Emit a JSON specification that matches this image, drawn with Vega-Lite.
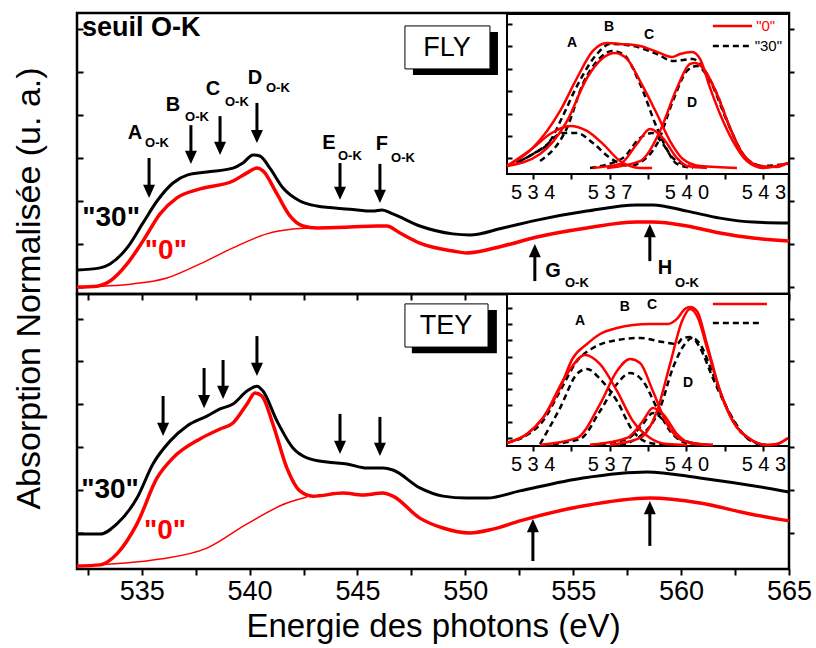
{
"$schema":"https://vega.github.io/schema/vega-lite/v6.json",
"background":"white",
"padding":{"left":10,"top":11,"right":10,"bottom":0},
"spacing":0,
"bounds":"flush",
"config":{"font":"Liberation Sans","view":{"stroke":"black","strokeWidth":2.5},
 "line":{"interpolate":"monotone"},
 "axis":{"grid":false,"domain":false,"tickColor":"black","tickWidth":2,"labelColor":"black","titleColor":"black","titleFontWeight":"normal","labelFont":"Liberation Sans","titleFont":"Liberation Sans","labelFlush":false,"labelOverlap":false}},
"datasets":{
"fly":[
{"s":"bg","x":532,"y":2.5},{"s":"bg","x":534.59,"y":3.6},{"s":"bg","x":536.17,"y":5.7},{"s":"bg","x":537.7,"y":10.7},{"s":"bg","x":539.23,"y":16.4},{"s":"bg","x":540.8,"y":21.4},{"s":"bg","x":542.01,"y":23.1},{"s":"bg","x":542.8,"y":23.5},
{"s":"30","x":532,"y":8.5},{"s":"30","x":533.07,"y":9.3},{"s":"30","x":533.53,"y":10.7},{"s":"30","x":534.32,"y":16.4},{"s":"30","x":535.06,"y":25.3},{"s":"30","x":535.71,"y":33.1},{"s":"30","x":536.45,"y":39.5},{"s":"30","x":537.1,"y":42.3},{"s":"30","x":538.02,"y":43.4},{"s":"30","x":539.23,"y":44.8},{"s":"30","x":539.69,"y":46.6},{"s":"30","x":540.16,"y":49.5},{"s":"30","x":540.48,"y":49.1},{"s":"30","x":540.94,"y":44.8},{"s":"30","x":541.55,"y":37.7},{"s":"30","x":542.33,"y":33.1},{"s":"30","x":543.12,"y":31.3},{"s":"30","x":544.65,"y":30.2},{"s":"30","x":545.72,"y":29.5},{"s":"30","x":546.13,"y":29.9},{"s":"30","x":546.64,"y":28.5},{"s":"30","x":547.89,"y":24.2},{"s":"30","x":549.42,"y":21.4},{"s":"30","x":550.21,"y":21.0},{"s":"30","x":551.74,"y":23.5},{"s":"30","x":553.32,"y":26.3},{"s":"30","x":555.63,"y":29.5},{"s":"30","x":557.95,"y":31.7},{"s":"30","x":558.69,"y":31.7},{"s":"30","x":560.27,"y":29.5},{"s":"30","x":561.8,"y":27.0},{"s":"30","x":563.33,"y":25.6},{"s":"30","x":565,"y":25.3},
{"s":"0","x":532,"y":2.5},{"s":"0","x":532.93,"y":2.8},{"s":"0","x":533.53,"y":4.6},{"s":"0","x":534.32,"y":10.7},{"s":"0","x":535.06,"y":18.9},{"s":"0","x":535.85,"y":28.5},{"s":"0","x":536.63,"y":34.2},{"s":"0","x":537.7,"y":37.4},{"s":"0","x":539.23,"y":40.2},{"s":"0","x":539.88,"y":43.1},{"s":"0","x":540.34,"y":44.8},{"s":"0","x":540.62,"y":43.8},{"s":"0","x":541.27,"y":35.6},{"s":"0","x":541.87,"y":27.8},{"s":"0","x":542.47,"y":24.2},{"s":"0","x":543.12,"y":23.5},{"s":"0","x":544.65,"y":23.8},{"s":"0","x":545.9,"y":24.2},{"s":"0","x":546.36,"y":24.2},{"s":"0","x":546.97,"y":21.7},{"s":"0","x":547.89,"y":18.1},{"s":"0","x":549.42,"y":15.3},{"s":"0","x":550.07,"y":14.6},{"s":"0","x":551.74,"y":17.1},{"s":"0","x":553.32,"y":20.3},{"s":"0","x":555.63,"y":23.5},{"s":"0","x":557.95,"y":25.6},{"s":"0","x":558.69,"y":25.6},{"s":"0","x":560.27,"y":24.2},{"s":"0","x":561.8,"y":21.7},{"s":"0","x":563.33,"y":19.9},{"s":"0","x":565,"y":18.9}
],
"tey":[
{"s":"bg","x":532,"y":1.1},{"s":"bg","x":535.85,"y":3.6},{"s":"bg","x":538.02,"y":7.6},{"s":"bg","x":539.88,"y":16.4},{"s":"bg","x":541.73,"y":24.0},{"s":"bg","x":542.66,"y":26.2},
{"s":"30","x":532,"y":12.7},{"s":"30","x":533.07,"y":12.7},{"s":"30","x":533.85,"y":16.4},{"s":"30","x":534.78,"y":25.8},{"s":"30","x":535.52,"y":38.2},{"s":"30","x":536.31,"y":46.5},{"s":"30","x":537.1,"y":52.0},{"s":"30","x":538.02,"y":55.6},{"s":"30","x":538.63,"y":58.2},{"s":"30","x":539.23,"y":60.0},{"s":"30","x":539.88,"y":64.7},{"s":"30","x":540.34,"y":66.5},{"s":"30","x":540.62,"y":64.7},{"s":"30","x":541.27,"y":53.8},{"s":"30","x":542.01,"y":44.0},{"s":"30","x":542.66,"y":40.4},{"s":"30","x":543.58,"y":38.9},{"s":"30","x":544.51,"y":38.2},{"s":"30","x":545.44,"y":36.7},{"s":"30","x":546.18,"y":36.7},{"s":"30","x":546.64,"y":36.0},{"s":"30","x":547.89,"y":29.5},{"s":"30","x":548.96,"y":26.5},{"s":"30","x":550.07,"y":25.8},{"s":"30","x":551.0,"y":25.8},{"s":"30","x":552.53,"y":28.4},{"s":"30","x":555.45,"y":33.1},{"s":"30","x":558.41,"y":35.3},{"s":"30","x":560.87,"y":33.1},{"s":"30","x":564.72,"y":28.4},{"s":"30","x":565,"y":28.0},
{"s":"0","x":532,"y":1.1},{"s":"0","x":533.07,"y":1.5},{"s":"0","x":533.85,"y":5.5},{"s":"0","x":534.78,"y":16.4},{"s":"0","x":535.71,"y":33.1},{"s":"0","x":536.45,"y":40.4},{"s":"0","x":537.7,"y":47.3},{"s":"0","x":538.63,"y":50.9},{"s":"0","x":539.23,"y":53.1},{"s":"0","x":539.88,"y":60.0},{"s":"0","x":540.25,"y":64.0},{"s":"0","x":540.57,"y":62.9},{"s":"0","x":541.08,"y":52.7},{"s":"0","x":541.73,"y":36.7},{"s":"0","x":542.33,"y":28.4},{"s":"0","x":542.94,"y":26.5},{"s":"0","x":544.33,"y":27.6},{"s":"0","x":545.25,"y":26.9},{"s":"0","x":546.18,"y":27.6},{"s":"0","x":546.64,"y":26.5},{"s":"0","x":547.89,"y":18.5},{"s":"0","x":548.96,"y":14.9},{"s":"0","x":550.21,"y":13.1},{"s":"0","x":551.28,"y":14.5},{"s":"0","x":552.53,"y":17.5},{"s":"0","x":555.45,"y":22.9},{"s":"0","x":558.55,"y":25.8},{"s":"0","x":560.87,"y":24.0},{"s":"0","x":563.19,"y":20.0},{"s":"0","x":565,"y":17.5}
],
"fly_ar":[
{"d":"down","x":535.34,"y":34.2,"y2":48.4},{"d":"down","x":537.28,"y":46.3,"y2":60.1},{"d":"down","x":538.63,"y":49.5,"y2":63.3},{"d":"down","x":540.34,"y":53.7,"y2":68.0},{"d":"down","x":544.19,"y":33.5,"y2":46.6},{"d":"down","x":546.04,"y":32.4,"y2":46.3},
{"d":"up","x":553.22,"y":17.8,"y2":4.6},{"d":"up","x":558.55,"y":24.9,"y2":11.7}
],
"tey_ar":[
{"d":"down","x":535.99,"y":48.4,"y2":62.9},{"d":"down","x":537.89,"y":58.5,"y2":73.1},{"d":"down","x":538.77,"y":61.8,"y2":76.0},{"d":"down","x":540.34,"y":70.2,"y2":84.7},{"d":"down","x":544.19,"y":41.8,"y2":56.4},{"d":"down","x":546.04,"y":41.1,"y2":55.3},
{"d":"up","x":553.13,"y":18.2,"y2":2.9},{"d":"up","x":558.55,"y":24.7,"y2":8.4}
],
"fly_tx":[
{"k":"big","t":"A","x":534.69,"y":57.3},{"k":"big","t":"B","x":536.45,"y":67.3},{"k":"big","t":"C","x":538.3,"y":73.0},{"k":"big","t":"D","x":540.25,"y":76.9},{"k":"big","t":"E","x":543.68,"y":53.7},{"k":"big","t":"F","x":546.13,"y":53.4},{"k":"big","t":"G","x":554.06,"y":8.2},{"k":"big","t":"H","x":559.25,"y":9.3},
{"k":"sub","t":"O-K","x":535.71,"y":53.7},{"k":"sub","t":"O-K","x":537.56,"y":63.0},{"k":"sub","t":"O-K","x":539.41,"y":68.3},{"k":"sub","t":"O-K","x":541.31,"y":73.3},{"k":"sub","t":"O-K","x":544.65,"y":49.1},{"k":"sub","t":"O-K","x":547.11,"y":48.4},{"k":"sub","t":"O-K","x":555.17,"y":3.9},{"k":"sub","t":"O-K","x":560.27,"y":3.9},
{"k":"seuil","t":"seuil O-K","x":532.23,"y":94.7},
{"k":"s30","t":"\"30\"","x":533.58,"y":27.0},
{"k":"s0","t":"\"0\"","x":536.12,"y":15.3},
{"k":"box","t":"FLY","x":549.15,"y":87.5}
],
"tey_tx":[
{"k":"s30","t":"\"30\"","x":533.53,"y":28.7},
{"k":"s0","t":"\"0\"","x":536.08,"y":13.8},
{"k":"box","t":"TEY","x":549.1,"y":88.4}
],
"fly_bx":[
{"k":"shadow","x":547.57,"x2":551.51,"y":93.2,"y2":77.9},
{"k":"box","x":547.2,"x2":551.14,"y":95.4,"y2":80.1}
],
"tey_bx":[
{"k":"shadow","x":547.52,"x2":551.46,"y":94.2,"y2":78.5},
{"k":"box","x":547.2,"x2":551.05,"y":96.4,"y2":80.7}
],
"fly_in":[
{"s":"env30","g":"30","x":533.0,"y":5.0},{"s":"env30","g":"30","x":534.01,"y":12.5},{"s":"env30","g":"30","x":534.68,"y":20.6},{"s":"env30","g":"30","x":535.18,"y":36.3},{"s":"env30","g":"30","x":535.73,"y":55.0},{"s":"env30","g":"30","x":536.51,"y":75.0},{"s":"env30","g":"30","x":537.02,"y":81.3},{"s":"env30","g":"30","x":537.91,"y":80.0},{"s":"env30","g":"30","x":538.85,"y":75.0},{"s":"env30","g":"30","x":539.47,"y":70.6},{"s":"env30","g":"30","x":540.25,"y":71.9},{"s":"env30","g":"30","x":540.64,"y":66.3},{"s":"env30","g":"30","x":541.19,"y":50.0},{"s":"env30","g":"30","x":541.7,"y":28.8},{"s":"env30","g":"30","x":542.2,"y":12.5},{"s":"env30","g":"30","x":542.87,"y":5.0},{"s":"env30","g":"30","x":543.96,"y":6.3},
{"s":"A30","g":"30","x":533.51,"y":8.1},{"s":"A30","g":"30","x":534.4,"y":16.3},{"s":"A30","g":"30","x":535.18,"y":25.6},{"s":"A30","g":"30","x":535.73,"y":25.6},{"s":"A30","g":"30","x":536.35,"y":19.4},{"s":"A30","g":"30","x":537.02,"y":10.0},{"s":"A30","g":"30","x":537.68,"y":5.0},
{"s":"B30","g":"30","x":534.29,"y":8.1},{"s":"B30","g":"30","x":535.34,"y":28.8},{"s":"B30","g":"30","x":535.96,"y":56.3},{"s":"B30","g":"30","x":536.63,"y":72.5},{"s":"B30","g":"30","x":537.1,"y":76.9},{"s":"B30","g":"30","x":537.52,"y":75.0},{"s":"B30","g":"30","x":538.19,"y":56.3},{"s":"B30","g":"30","x":538.85,"y":28.8},{"s":"B30","g":"30","x":539.47,"y":10.0},{"s":"B30","g":"30","x":540.14,"y":5.0},
{"s":"C30","g":"30","x":536.24,"y":3.8},{"s":"C30","g":"30","x":537.52,"y":10.0},{"s":"C30","g":"30","x":538.19,"y":22.5},{"s":"C30","g":"30","x":538.66,"y":25.6},{"s":"C30","g":"30","x":539.08,"y":18.8},{"s":"C30","g":"30","x":539.63,"y":6.3},{"s":"C30","g":"30","x":540.25,"y":3.8},
{"s":"D30","g":"30","x":537.91,"y":5.0},{"s":"D30","g":"30","x":538.85,"y":18.8},{"s":"D30","g":"30","x":539.47,"y":45.6},{"s":"D30","g":"30","x":540.02,"y":64.4},{"s":"D30","g":"30","x":540.41,"y":67.5},{"s":"D30","g":"30","x":540.92,"y":58.1},{"s":"D30","g":"30","x":541.58,"y":33.1},{"s":"D30","g":"30","x":542.2,"y":12.5},{"s":"D30","g":"30","x":542.87,"y":5.0},
{"s":"L30","g":"30","x":541.03,"y":80.0},{"s":"L30","g":"30","x":542.56,"y":80.0},
{"s":"env0","g":"0","x":533.0,"y":5.0},{"s":"env0","g":"0","x":534.01,"y":16.3},{"s":"env0","g":"0","x":535.07,"y":39.4},{"s":"env0","g":"0","x":535.73,"y":60.0},{"s":"env0","g":"0","x":536.35,"y":76.9},{"s":"env0","g":"0","x":536.9,"y":81.9},{"s":"env0","g":"0","x":537.41,"y":81.3},{"s":"env0","g":"0","x":538.19,"y":80.0},{"s":"env0","g":"0","x":538.85,"y":76.3},{"s":"env0","g":"0","x":539.44,"y":73.1},{"s":"env0","g":"0","x":539.75,"y":75.0},{"s":"env0","g":"0","x":540.22,"y":76.3},{"s":"env0","g":"0","x":540.53,"y":71.9},{"s":"env0","g":"0","x":540.92,"y":53.8},{"s":"env0","g":"0","x":541.31,"y":37.5},{"s":"env0","g":"0","x":541.81,"y":20.6},{"s":"env0","g":"0","x":542.36,"y":8.1},{"s":"env0","g":"0","x":542.98,"y":3.8},{"s":"env0","g":"0","x":543.53,"y":5.0},{"s":"env0","g":"0","x":543.96,"y":6.9},
{"s":"A0","g":"0","x":533.0,"y":5.0},{"s":"A0","g":"0","x":534.01,"y":16.3},{"s":"A0","g":"0","x":534.68,"y":25.0},{"s":"A0","g":"0","x":535.46,"y":30.0},{"s":"A0","g":"0","x":536.12,"y":26.9},{"s":"A0","g":"0","x":536.74,"y":18.8},{"s":"A0","g":"0","x":537.41,"y":8.1},{"s":"A0","g":"0","x":538.19,"y":3.8},{"s":"A0","g":"0","x":538.66,"y":3.8},
{"s":"B0","g":"0","x":533.0,"y":5.0},{"s":"B0","g":"0","x":534.29,"y":12.5},{"s":"B0","g":"0","x":535.34,"y":33.1},{"s":"B0","g":"0","x":536.12,"y":60.0},{"s":"B0","g":"0","x":536.74,"y":72.5},{"s":"B0","g":"0","x":537.21,"y":75.6},{"s":"B0","g":"0","x":537.68,"y":71.9},{"s":"B0","g":"0","x":538.19,"y":58.1},{"s":"B0","g":"0","x":538.85,"y":37.5},{"s":"B0","g":"0","x":539.36,"y":20.6},{"s":"B0","g":"0","x":539.86,"y":9.4},{"s":"B0","g":"0","x":540.53,"y":5.0},{"s":"B0","g":"0","x":541.97,"y":3.8},
{"s":"C0","g":"0","x":536.35,"y":3.8},{"s":"C0","g":"0","x":537.41,"y":6.3},{"s":"C0","g":"0","x":538.07,"y":18.8},{"s":"C0","g":"0","x":538.58,"y":28.1},{"s":"C0","g":"0","x":539.08,"y":22.5},{"s":"C0","g":"0","x":539.63,"y":10.0},{"s":"C0","g":"0","x":540.02,"y":5.0},{"s":"C0","g":"0","x":540.8,"y":3.8},
{"s":"D0","g":"0","x":536.9,"y":3.8},{"s":"D0","g":"0","x":538.19,"y":8.1},{"s":"D0","g":"0","x":538.97,"y":26.9},{"s":"D0","g":"0","x":539.63,"y":53.8},{"s":"D0","g":"0","x":540.14,"y":68.8},{"s":"D0","g":"0","x":540.33,"y":69.4},{"s":"D0","g":"0","x":540.64,"y":66.3},{"s":"D0","g":"0","x":541.19,"y":50.0},{"s":"D0","g":"0","x":541.7,"y":28.8},{"s":"D0","g":"0","x":542.2,"y":12.5},{"s":"D0","g":"0","x":542.87,"y":5.0},{"s":"D0","g":"0","x":543.53,"y":4.4},{"s":"D0","g":"0","x":543.96,"y":6.9},
{"s":"L0","g":"0","x":541.03,"y":92.5},{"s":"L0","g":"0","x":542.56,"y":92.5}
],
"tey_in":[
{"s":"env30","g":"30","x":533.0,"y":2.0},{"s":"env30","g":"30","x":533.78,"y":7.2},{"s":"env30","g":"30","x":534.4,"y":16.4},{"s":"env30","g":"30","x":535.07,"y":36.2},{"s":"env30","g":"30","x":535.73,"y":55.9},{"s":"env30","g":"30","x":536.35,"y":64.5},{"s":"env30","g":"30","x":537.29,"y":69.7},{"s":"env30","g":"30","x":538.19,"y":71.1},{"s":"env30","g":"30","x":539.08,"y":68.4},{"s":"env30","g":"30","x":539.63,"y":67.1},{"s":"env30","g":"30","x":539.86,"y":71.1},{"s":"env30","g":"30","x":540.14,"y":71.7},{"s":"env30","g":"30","x":540.53,"y":67.1},{"s":"env30","g":"30","x":541.03,"y":47.4},{"s":"env30","g":"30","x":541.58,"y":25.0},{"s":"env30","g":"30","x":542.09,"y":9.9},{"s":"env30","g":"30","x":542.75,"y":2.0},{"s":"env30","g":"30","x":543.14,"y":0.7},
{"s":"A30","g":"30","x":534.29,"y":1.3},{"s":"A30","g":"30","x":535.07,"y":25.0},{"s":"A30","g":"30","x":535.73,"y":47.4},{"s":"A30","g":"30","x":536.12,"y":50.7},{"s":"A30","g":"30","x":536.63,"y":44.1},{"s":"A30","g":"30","x":537.29,"y":29.6},{"s":"A30","g":"30","x":537.91,"y":9.9},{"s":"A30","g":"30","x":538.58,"y":2.0},{"s":"A30","g":"30","x":539.47,"y":0.7},
{"s":"B30","g":"30","x":534.4,"y":0.7},{"s":"B30","g":"30","x":535.85,"y":4.6},{"s":"B30","g":"30","x":536.63,"y":23.0},{"s":"B30","g":"30","x":537.29,"y":40.8},{"s":"B30","g":"30","x":537.8,"y":48.0},{"s":"B30","g":"30","x":538.3,"y":42.8},{"s":"B30","g":"30","x":538.85,"y":25.0},{"s":"B30","g":"30","x":539.36,"y":9.9},{"s":"B30","g":"30","x":540.02,"y":2.0},{"s":"B30","g":"30","x":541.03,"y":0.7},
{"s":"C30","g":"30","x":536.24,"y":0.7},{"s":"C30","g":"30","x":537.68,"y":4.6},{"s":"C30","g":"30","x":538.3,"y":14.5},{"s":"C30","g":"30","x":538.69,"y":21.7},{"s":"C30","g":"30","x":539.24,"y":14.5},{"s":"C30","g":"30","x":539.75,"y":4.6},{"s":"C30","g":"30","x":540.8,"y":0.7},
{"s":"D30","g":"30","x":537.41,"y":0.7},{"s":"D30","g":"30","x":538.3,"y":7.9},{"s":"D30","g":"30","x":538.97,"y":25.0},{"s":"D30","g":"30","x":539.47,"y":51.3},{"s":"D30","g":"30","x":539.94,"y":67.1},{"s":"D30","g":"30","x":540.22,"y":71.1},{"s":"D30","g":"30","x":540.53,"y":64.5},{"s":"D30","g":"30","x":541.03,"y":44.7},{"s":"D30","g":"30","x":541.7,"y":21.1},{"s":"D30","g":"30","x":542.36,"y":5.3},{"s":"D30","g":"30","x":542.98,"y":0.7},
{"s":"L30","g":"30","x":541.03,"y":80.9},{"s":"L30","g":"30","x":542.98,"y":80.9},
{"s":"env0","g":"0","x":533.0,"y":2.0},{"s":"env0","g":"0","x":533.78,"y":7.9},{"s":"env0","g":"0","x":534.4,"y":18.4},{"s":"env0","g":"0","x":535.07,"y":38.2},{"s":"env0","g":"0","x":535.57,"y":57.9},{"s":"env0","g":"0","x":536.12,"y":67.1},{"s":"env0","g":"0","x":536.63,"y":73.7},{"s":"env0","g":"0","x":537.29,"y":77.6},{"s":"env0","g":"0","x":537.91,"y":79.6},{"s":"env0","g":"0","x":538.58,"y":80.3},{"s":"env0","g":"0","x":539.28,"y":80.3},{"s":"env0","g":"0","x":539.63,"y":83.6},{"s":"env0","g":"0","x":539.94,"y":90.1},{"s":"env0","g":"0","x":540.14,"y":91.4},{"s":"env0","g":"0","x":540.41,"y":88.8},{"s":"env0","g":"0","x":540.8,"y":67.1},{"s":"env0","g":"0","x":541.31,"y":36.2},{"s":"env0","g":"0","x":541.81,"y":16.4},{"s":"env0","g":"0","x":542.48,"y":4.6},{"s":"env0","g":"0","x":543.14,"y":0.7},{"s":"env0","g":"0","x":543.53,"y":1.3},{"s":"env0","g":"0","x":543.96,"y":5.3},
{"s":"A0","g":"0","x":533.0,"y":2.0},{"s":"A0","g":"0","x":533.78,"y":7.9},{"s":"A0","g":"0","x":534.4,"y":18.4},{"s":"A0","g":"0","x":535.34,"y":47.4},{"s":"A0","g":"0","x":536.04,"y":59.9},{"s":"A0","g":"0","x":536.63,"y":53.9},{"s":"A0","g":"0","x":537.29,"y":36.2},{"s":"A0","g":"0","x":537.91,"y":16.4},{"s":"A0","g":"0","x":538.58,"y":5.3},{"s":"A0","g":"0","x":539.24,"y":1.3},{"s":"A0","g":"0","x":540.02,"y":0.7},
{"s":"B0","g":"0","x":534.29,"y":0.7},{"s":"B0","g":"0","x":535.73,"y":5.3},{"s":"B0","g":"0","x":536.63,"y":27.6},{"s":"B0","g":"0","x":537.29,"y":49.3},{"s":"B0","g":"0","x":537.8,"y":57.2},{"s":"B0","g":"0","x":538.19,"y":54.6},{"s":"B0","g":"0","x":538.69,"y":36.2},{"s":"B0","g":"0","x":539.24,"y":14.5},{"s":"B0","g":"0","x":539.75,"y":4.6},{"s":"B0","g":"0","x":540.53,"y":1.3},{"s":"B0","g":"0","x":541.03,"y":0.7},
{"s":"C0","g":"0","x":536.24,"y":0.7},{"s":"C0","g":"0","x":537.68,"y":5.3},{"s":"C0","g":"0","x":538.3,"y":16.4},{"s":"C0","g":"0","x":538.69,"y":25.0},{"s":"C0","g":"0","x":539.08,"y":21.1},{"s":"C0","g":"0","x":539.63,"y":7.9},{"s":"C0","g":"0","x":540.25,"y":1.3},{"s":"C0","g":"0","x":541.03,"y":0.7},
{"s":"D0","g":"0","x":537.02,"y":0.7},{"s":"D0","g":"0","x":538.19,"y":5.3},{"s":"D0","g":"0","x":538.85,"y":23.0},{"s":"D0","g":"0","x":539.36,"y":53.9},{"s":"D0","g":"0","x":539.83,"y":82.2},{"s":"D0","g":"0","x":540.14,"y":90.1},{"s":"D0","g":"0","x":540.45,"y":84.2},{"s":"D0","g":"0","x":540.8,"y":64.5},{"s":"D0","g":"0","x":541.31,"y":36.2},{"s":"D0","g":"0","x":541.81,"y":16.4},{"s":"D0","g":"0","x":542.48,"y":4.6},{"s":"D0","g":"0","x":543.14,"y":0.7},{"s":"D0","g":"0","x":543.53,"y":1.3},{"s":"D0","g":"0","x":543.96,"y":5.3},
{"s":"L0","g":"0","x":541.03,"y":93.4},{"s":"L0","g":"0","x":543.14,"y":93.4}
],
"fly_inl":[
{"k":"lab","t":"A","x":535.54,"y":81.9},{"k":"lab","t":"B","x":536.98,"y":91.9},{"k":"lab","t":"C","x":538.54,"y":86.9},{"k":"lab","t":"D","x":540.22,"y":44.4},
{"k":"l0","t":"\"0\"","x":542.72,"y":92.5},{"k":"l30","t":"\"30\"","x":542.66,"y":80.0}
],
"tey_inl":[
{"k":"lab","t":"A","x":535.85,"y":82.2},{"k":"lab","t":"B","x":537.6,"y":91.4},{"k":"lab","t":"C","x":538.66,"y":92.8},{"k":"lab","t":"D","x":540.06,"y":41.4}
]
},
"vconcat":[
{"width":712,"height":281,
 "resolve":{"scale":{"x":"independent","y":"independent"}},
 "layer":[
  {"encoding":{
    "x":{"field":"x","type":"quantitative","scale":{"domain":[532,565],"nice":false,"zero":false},
         "axis":{"orient":"bottom","title":null,"labels":false,"tickSize":6,"values":[532.5,535,537.5,540,542.5,545,547.5,550,552.5,555,557.5,560,562.5,565]}},
    "y":{"field":"y","type":"quantitative","scale":{"domain":[0,100],"nice":false,"zero":false},
         "axis":{"orient":"left","labels":false,"tickSize":-6,"values":[2.5,17.8,33.1,48.4,63.7,79,94.3],
                 "title":"Absorption Normalisée (u. a.)","titleFontSize":34,"titleY":275,"titlePadding":30}}},
   "layer":[
    {"data":{"name":"fly"},"transform":[{"filter":"datum.s==='bg'"}],"mark":{"type":"line","color":"#ff0000","strokeWidth":1.5}},
    {"data":{"name":"fly"},"transform":[{"filter":"datum.s==='30'"}],"mark":{"type":"line","color":"black","strokeWidth":3}},
    {"data":{"name":"fly"},"transform":[{"filter":"datum.s==='0'"}],"mark":{"type":"line","color":"#ff0000","strokeWidth":3.5}},
    {"data":{"name":"fly_ar"},"transform":[{"filter":"datum.d==='down'"}],"mark":{"type":"rule","color":"black","strokeWidth":3,"yOffset":-8},"encoding":{"y2":{"field":"y2"}}},
    {"data":{"name":"fly_ar"},"transform":[{"filter":"datum.d==='down'"}],"mark":{"type":"point","shape":"M-1,-2.2L1,-2.2L0,0Z","filled":true,"color":"black","size":144,"opacity":1,"strokeWidth":0}},
    {"data":{"name":"fly_ar"},"transform":[{"filter":"datum.d==='up'"}],"mark":{"type":"rule","color":"black","strokeWidth":3,"yOffset":8},"encoding":{"y2":{"field":"y2"}}},
    {"data":{"name":"fly_ar"},"transform":[{"filter":"datum.d==='up'"}],"mark":{"type":"point","shape":"M-1,2.2L1,2.2L0,0Z","filled":true,"color":"black","size":144,"opacity":1,"strokeWidth":0}},
    {"data":{"name":"fly_tx"},"transform":[{"filter":"datum.k==='big'"}],"mark":{"type":"text","fontSize":20,"fontWeight":"bold","color":"black","align":"center","baseline":"middle"},"encoding":{"text":{"field":"t"}}},
    {"data":{"name":"fly_tx"},"transform":[{"filter":"datum.k==='sub'"}],"mark":{"type":"text","fontSize":13,"fontWeight":"bold","color":"black","align":"center","baseline":"middle"},"encoding":{"text":{"field":"t"}}},
    {"data":{"name":"fly_tx"},"transform":[{"filter":"datum.k==='seuil'"}],"mark":{"type":"text","fontSize":27,"fontWeight":"bold","color":"black","align":"left","baseline":"middle"},"encoding":{"text":{"field":"t"}}},
    {"data":{"name":"fly_tx"},"transform":[{"filter":"datum.k==='s30'"}],"mark":{"type":"text","fontSize":28,"fontWeight":"bold","color":"black","align":"center","baseline":"middle"},"encoding":{"text":{"field":"t"}}},
    {"data":{"name":"fly_tx"},"transform":[{"filter":"datum.k==='s0'"}],"mark":{"type":"text","fontSize":28,"fontWeight":"bold","color":"#ff0000","align":"center","baseline":"middle"},"encoding":{"text":{"field":"t"}}},
    {"data":{"name":"fly_bx"},"transform":[{"filter":"datum.k==='shadow'"}],"mark":{"type":"rect","color":"black"},"encoding":{"x2":{"field":"x2"},"y2":{"field":"y2"}}},
    {"data":{"name":"fly_bx"},"transform":[{"filter":"datum.k==='box'"}],"mark":{"type":"rect","fill":"white","stroke":"black","strokeWidth":1},"encoding":{"x2":{"field":"x2"},"y2":{"field":"y2"}}},
    {"data":{"name":"fly_tx"},"transform":[{"filter":"datum.k==='box'"}],"mark":{"type":"text","fontSize":27,"color":"black","align":"center","baseline":"middle"},"encoding":{"text":{"field":"t"}}}
   ]},
  {"data":{"name":"fly"},"mark":{"type":"line","opacity":0},
   "encoding":{"x":{"field":"x","type":"quantitative","scale":{"domain":[532,565],"nice":false,"zero":false},"axis":null},
               "y":{"field":"y","type":"quantitative","scale":{"domain":[0,100],"nice":false,"zero":false},
                    "axis":{"orient":"right","labels":false,"title":null,"tickSize":5,"values":[2.5,17.8,33.1,48.4,63.7,79,94.3]}}}},
  {"encoding":{
    "x":{"field":"x","type":"quantitative","scale":{"domain":[533,544],"range":[430,712],"nice":false,"zero":false},
         "axis":{"orient":"bottom","offset":-120,"title":null,"values":[534,535.5,537,538.5,540,541.5,543],
                 "labelExpr":"datum.value % 3 === 0 ? join(split(format(datum.value, 'd'), ''), ' ') : ''",
                 "labelFontSize":20,"tickSize":5,"labelPadding":3,"zindex":1}},
    "y":{"field":"y","type":"quantitative","scale":{"domain":[0,100],"range":[161,1],"nice":false,"zero":false},
         "axis":{"orient":"left","offset":-430,"labels":false,"title":null,"tickSize":-5,"values":[10,23.8,37.5,51.9,65.6,80,93.8],"zindex":1}}},
   "layer":[
    {"data":{"values":[{"x":533,"x2":544,"y":0,"y2":100}]},"mark":{"type":"rect","fill":"white","stroke":"black","strokeWidth":2},"encoding":{"x2":{"field":"x2"},"y2":{"field":"y2"}}},
    {"data":{"name":"fly_in"},"transform":[{"filter":"datum.g==='30'"}],"mark":{"type":"line","color":"black","strokeWidth":2.5,"strokeDash":[6,4]},"encoding":{"detail":{"field":"s"}}},
    {"data":{"name":"fly_in"},"transform":[{"filter":"datum.g==='0'"}],"mark":{"type":"line","color":"#ff0000","strokeWidth":2.5},"encoding":{"detail":{"field":"s"}}},
    {"data":{"name":"fly_inl"},"transform":[{"filter":"datum.k==='lab'"}],"mark":{"type":"text","fontSize":14,"fontWeight":"bold","color":"black","align":"center","baseline":"middle"},"encoding":{"text":{"field":"t"}}},
    {"data":{"name":"fly_inl"},"transform":[{"filter":"datum.k==='l0'"}],"mark":{"type":"text","fontSize":15,"color":"#ff0000","align":"left","baseline":"middle"},"encoding":{"text":{"field":"t"}}},
    {"data":{"name":"fly_inl"},"transform":[{"filter":"datum.k==='l30'"}],"mark":{"type":"text","fontSize":15,"color":"black","align":"left","baseline":"middle"},"encoding":{"text":{"field":"t"}}}
   ]}
 ]},
{"width":712,"height":275,
 "resolve":{"scale":{"x":"independent","y":"independent"}},
 "layer":[
  {"encoding":{
    "x":{"field":"x","type":"quantitative","scale":{"domain":[532,565],"nice":false,"zero":false},
         "axis":{"orient":"bottom","title":"Energie des photons (eV)","titleFontSize":33,"titlePadding":6,"labelFontSize":27,"labelPadding":3,"tickSize":6,
                 "values":[532.5,535,537.5,540,542.5,545,547.5,550,552.5,555,557.5,560,562.5,565],
                 "labelExpr":"datum.value % 5 === 0 ? format(datum.value, 'd') : ''"}},
    "y":{"field":"y","type":"quantitative","scale":{"domain":[0,100],"nice":false,"zero":false},
         "axis":{"orient":"left","labels":false,"tickSize":-6,"values":[13.1,28.7,44.4,60,75.6,90.9],"title":null}}},
   "layer":[
    {"data":{"name":"tey"},"transform":[{"filter":"datum.s==='bg'"}],"mark":{"type":"line","color":"#ff0000","strokeWidth":1.5}},
    {"data":{"name":"tey"},"transform":[{"filter":"datum.s==='30'"}],"mark":{"type":"line","color":"black","strokeWidth":3}},
    {"data":{"name":"tey"},"transform":[{"filter":"datum.s==='0'"}],"mark":{"type":"line","color":"#ff0000","strokeWidth":3.5}},
    {"data":{"name":"tey_ar"},"transform":[{"filter":"datum.d==='down'"}],"mark":{"type":"rule","color":"black","strokeWidth":3,"yOffset":-8},"encoding":{"y2":{"field":"y2"}}},
    {"data":{"name":"tey_ar"},"transform":[{"filter":"datum.d==='down'"}],"mark":{"type":"point","shape":"M-1,-2.2L1,-2.2L0,0Z","filled":true,"color":"black","size":144,"opacity":1,"strokeWidth":0}},
    {"data":{"name":"tey_ar"},"transform":[{"filter":"datum.d==='up'"}],"mark":{"type":"rule","color":"black","strokeWidth":3,"yOffset":8},"encoding":{"y2":{"field":"y2"}}},
    {"data":{"name":"tey_ar"},"transform":[{"filter":"datum.d==='up'"}],"mark":{"type":"point","shape":"M-1,2.2L1,2.2L0,0Z","filled":true,"color":"black","size":144,"opacity":1,"strokeWidth":0}},
    {"data":{"name":"tey_tx"},"transform":[{"filter":"datum.k==='s30'"}],"mark":{"type":"text","fontSize":28,"fontWeight":"bold","color":"black","align":"center","baseline":"middle"},"encoding":{"text":{"field":"t"}}},
    {"data":{"name":"tey_tx"},"transform":[{"filter":"datum.k==='s0'"}],"mark":{"type":"text","fontSize":28,"fontWeight":"bold","color":"#ff0000","align":"center","baseline":"middle"},"encoding":{"text":{"field":"t"}}},
    {"data":{"name":"tey_bx"},"transform":[{"filter":"datum.k==='shadow'"}],"mark":{"type":"rect","color":"black"},"encoding":{"x2":{"field":"x2"},"y2":{"field":"y2"}}},
    {"data":{"name":"tey_bx"},"transform":[{"filter":"datum.k==='box'"}],"mark":{"type":"rect","fill":"white","stroke":"black","strokeWidth":1},"encoding":{"x2":{"field":"x2"},"y2":{"field":"y2"}}},
    {"data":{"name":"tey_tx"},"transform":[{"filter":"datum.k==='box'"}],"mark":{"type":"text","fontSize":27,"color":"black","align":"center","baseline":"middle"},"encoding":{"text":{"field":"t"}}}
   ]},
  {"data":{"name":"tey"},"mark":{"type":"line","opacity":0},
   "encoding":{"x":{"field":"x","type":"quantitative","scale":{"domain":[532,565],"nice":false,"zero":false},"axis":null},
               "y":{"field":"y","type":"quantitative","scale":{"domain":[0,100],"nice":false,"zero":false},
                    "axis":{"orient":"right","labels":false,"title":null,"tickSize":5,"values":[13.1,28.7,44.4,60,75.6,90.9]}}}},
  {"encoding":{
    "x":{"field":"x","type":"quantitative","scale":{"domain":[533,544],"range":[430,712],"nice":false,"zero":false},
         "axis":{"orient":"bottom","offset":-123,"title":null,"values":[534,535.5,537,538.5,540,541.5,543],
                 "labelExpr":"datum.value % 3 === 0 ? join(split(format(datum.value, 'd'), ''), ' ') : ''",
                 "labelFontSize":20,"tickSize":5,"labelPadding":3,"zindex":1}},
    "y":{"field":"y","type":"quantitative","scale":{"domain":[0,100],"range":[152,0],"nice":false,"zero":false},
         "axis":{"orient":"left","offset":-430,"labels":false,"title":null,"tickSize":-5,"values":[5.3,16,26.7,37.4,48.1,58.8,69.5,80.2,90.9],"zindex":1}}},
   "layer":[
    {"data":{"values":[{"x":533,"x2":544,"y":0,"y2":100}]},"mark":{"type":"rect","fill":"white","stroke":"black","strokeWidth":2},"encoding":{"x2":{"field":"x2"},"y2":{"field":"y2"}}},
    {"data":{"name":"tey_in"},"transform":[{"filter":"datum.g==='30'"}],"mark":{"type":"line","color":"black","strokeWidth":2.5,"strokeDash":[6,4]},"encoding":{"detail":{"field":"s"}}},
    {"data":{"name":"tey_in"},"transform":[{"filter":"datum.g==='0'"}],"mark":{"type":"line","color":"#ff0000","strokeWidth":2.5},"encoding":{"detail":{"field":"s"}}},
    {"data":{"name":"tey_inl"},"transform":[{"filter":"datum.k==='lab'"}],"mark":{"type":"text","fontSize":14,"fontWeight":"bold","color":"black","align":"center","baseline":"middle"},"encoding":{"text":{"field":"t"}}}
   ]}
 ]}
]
}
